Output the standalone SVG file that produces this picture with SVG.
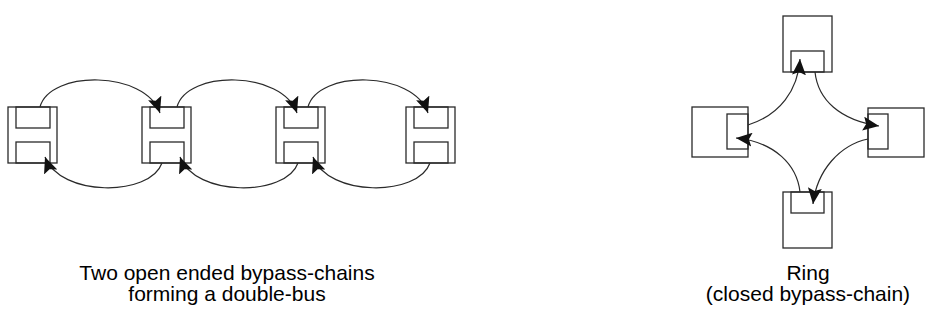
<svg xmlns="http://www.w3.org/2000/svg" width="936" height="322" viewBox="0 0 936 322">
<style>
.box{fill:none;stroke:#2a2a2a;stroke-width:1.3}
.con{fill:none;stroke:#2a2a2a;stroke-width:1.2;marker-end:url(#ah)}
.lbl{font-family:"Liberation Sans",Arial,sans-serif;font-size:21px;fill:#000;text-anchor:middle}
</style>
<defs>
<marker id="ah" markerUnits="userSpaceOnUse" viewBox="0 0 16 14" markerWidth="16" markerHeight="14" refX="16" refY="7" orient="auto">
<path d="M0,0 L16,7 L0,14 L3,7 z" fill="#111"/>
</marker>
</defs>
<rect width="936" height="322" fill="#fff"/>
<g id="bus1"><rect class="box" x="8" y="107" width="49" height="56"/><rect class="box" x="16" y="107" width="34" height="21"/><rect class="box" x="16" y="142" width="34" height="21"/></g>
<g id="bus2"><rect class="box" x="142" y="107" width="49" height="56"/><rect class="box" x="150" y="107" width="34" height="21"/><rect class="box" x="150" y="142" width="34" height="21"/></g>
<g id="bus3"><rect class="box" x="276" y="107" width="49" height="56"/><rect class="box" x="284" y="107" width="34" height="21"/><rect class="box" x="284" y="142" width="34" height="21"/></g>
<g id="bus4"><rect class="box" x="406" y="107" width="49" height="56"/><rect class="box" x="414" y="107" width="34" height="21"/><rect class="box" x="414" y="142" width="34" height="21"/></g>
<g id="ringTop"><rect class="box" x="783" y="16" width="49" height="56"/><rect class="box" x="791" y="51" width="33" height="21"/></g>
<g id="ringLeft"><rect class="box" x="692" y="107" width="56" height="50"/><rect class="box" x="727" y="114" width="21" height="35"/></g>
<g id="ringRight"><rect class="box" x="868" y="108" width="56" height="49"/><rect class="box" x="868" y="114" width="20" height="35"/></g>
<g id="ringBottom"><rect class="box" x="783" y="192" width="49" height="56"/><rect class="box" x="791" y="192" width="33" height="21"/></g>
<g id="connectors">
<path class="con" d="M40,107 C50,70 145,70 160,113"/>
<path class="con" d="M177,107 C187,70 282,70 297,113"/>
<path class="con" d="M308,107 C318,70 413,70 428,113"/>
<path class="con" d="M162,163 C150,197 60,197 45,157"/>
<path class="con" d="M298,163 C286,197 195,197 180,157"/>
<path class="con" d="M430,163 C418,197 328,197 313,157"/>
<path class="con" d="M748,125 C780,115 798,90 800,59"/>
<path class="con" d="M815,72 C818,100 840,120 879,126"/>
<path class="con" d="M868,139 C840,145 817,170 813,204"/>
<path class="con" d="M800,192 C797,165 775,142 736,138"/>
</g>
<g id="labels">
<text class="lbl" x="227" y="280">Two open ended bypass-chains</text>
<text class="lbl" x="227" y="301">forming a double-bus</text>
<text class="lbl" x="808" y="280">Ring</text>
<text class="lbl" x="808" y="301">(closed bypass-chain)</text>
</g>
</svg>
